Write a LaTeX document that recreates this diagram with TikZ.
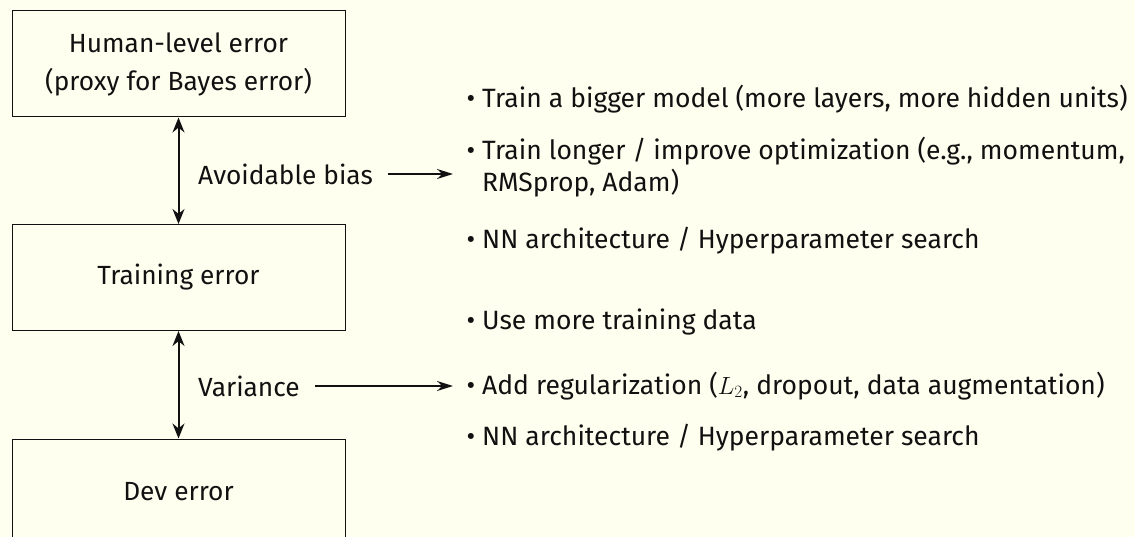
\documentclass[tikz,border=0pt]{standalone}
\usepackage{fontspec}
\setmainfont{Fira Sans}
\usetikzlibrary{arrows.meta}
\definecolor{paper}{HTML}{FFFFF0}
\definecolor{ink}{HTML}{111111}
\tikzset{
  errbox/.style={draw=ink, line width=1pt, minimum width=333pt, minimum height=106pt,
                 align=center, font=\fontsize{26.3}{38}\selectfont, text=ink},
  gap/.style={ink, line width=2pt, {Stealth[length=15pt,width=12pt]}-{Stealth[length=15pt,width=12pt]}},
  lead/.style={ink, line width=1.5pt, -{Stealth[length=16pt,width=10pt]}},
  lbl/.style={anchor=west, inner sep=0pt, font=\fontsize{26.3}{32}\selectfont, text=ink},
  dot/.style={anchor=base, inner sep=0pt, font=\fontsize{26.5}{32}\selectfont, text=ink},
  item/.style={anchor=base west, inner sep=0pt, align=left, font=\fontsize{26.5}{32}\selectfont, text=ink},
}
\begin{document}
\begin{tikzpicture}[x=1pt, y=-1pt]
  \fill[paper] (0,0) rectangle (1135,537);
  \useasboundingbox (0,0) rectangle (1135,537);
  \begin{scope}
    \clip (0,0) rectangle (1135,537);

    % the three error levels
    \node[errbox] (human) at (178.5,64) {Human-level error\\(proxy for Bayes error)};
    \node[errbox] (train) at (178.5,277.5) {Training error};
    \node[errbox] (dev)   at (178.5,492) {Dev error};

    % gaps between levels
    \draw[gap] (human.south) -- (train.north);
    \draw[gap] (train.south) -- (dev.north);

    \node[lbl] (bias) at (198,174) {Avoidable bias};
    \node[lbl] (var)  at (198,386) {Variance};
    \coordinate (biasend) at (453,174);
    \coordinate (varend)  at (453,386);
    \draw[lead] ([xshift=15pt]bias.east) -- (biasend);
    \draw[lead] ([xshift=15pt]var.east) -- (varend);

    % remedies for bias
    \node[dot] (b1) at (471,108) {•};
    \node[item] (t1) at (482,108) {Train a bigger model (more layers, more hidden units)};
    \node[dot] (b2) at (471,160) {•};
    \node[item] (t2) at (482,192) {Train longer / improve optimization (e.g., momentum,\\RMSprop, Adam)};
    \node[dot] (b3) at (471,249) {•};
    \node[item] (t3) at (482,249) {NN architecture / Hyperparameter search};

    % remedies for variance
    \node[dot] (b4) at (471,330) {•};
    \node[item] (t4) at (482,330) {Use more training data};
    \node[dot] (b5) at (471,394) {•};
    \node[item] (t5) at (482,394) {Add regularization ($L_2$, dropout, data augmentation)};
    \node[dot] (b6) at (471,445) {•};
    \node[item] (t6) at (482,445) {NN architecture / Hyperparameter search};
  \end{scope}
\end{tikzpicture}
\end{document}
